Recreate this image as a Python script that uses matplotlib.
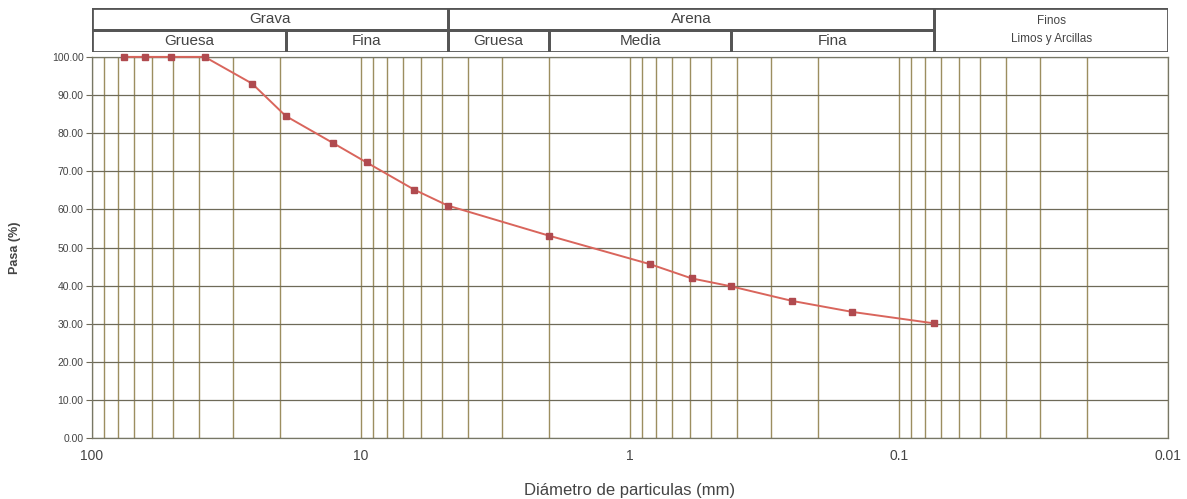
import matplotlib
matplotlib.use("Agg")
import matplotlib.pyplot as plt
from matplotlib.ticker import FixedLocator, LogLocator, NullFormatter

plt.rcParams["font.family"] = ["Liberation Sans", "DejaVu Sans"]

# tamices (mm) y porcentaje que pasa
diametro = [76.2, 63.5, 50.8, 38.1, 25.4, 19.05, 12.7, 9.525, 6.35, 4.76,
            2.0, 0.84, 0.59, 0.42, 0.25, 0.149, 0.074]
pasa = [100.0, 100.0, 100.0, 100.0, 93.0, 84.5, 77.4, 72.3, 65.2, 61.0,
        53.1, 45.6, 41.9, 39.8, 36.0, 33.1, 30.1]

x_ticks = [100, 10, 1, 0.1, 0.01]
x_labels = ["100", "10", "1", "0.1", "0.01"]
y_ticks = list(range(0, 101, 10))

# encabezado de clasificacion
fila1 = [("Grava", 100, 4.76), ("Arena", 4.76, 0.074)]
fila2 = [("Gruesa", 100, 19.05), ("Fina", 19.05, 4.76), ("Gruesa", 4.76, 2.0),
         ("Media", 2.0, 0.42), ("Fina", 0.42, 0.074)]
finos = ("Finos\nLimos y Arcillas", 0.074, 0.01)

fig = plt.figure(figsize=(11.87, 4.99), dpi=100)
ax = fig.add_axes([0.0775, 0.122, 0.9065, 0.764])
hd = fig.add_axes([0.0775, 0.896, 0.9065, 0.088], sharex=ax)

grid_v = "#9c8e60"
grid_h = "#6e6a58"
txt = "#444444"

ax.set_xscale("log")
ax.set_xlim(100, 0.01)
ax.set_ylim(0, 100)
ax.xaxis.set_major_locator(FixedLocator(x_ticks))
ax.set_xticklabels(x_labels)
ax.xaxis.set_minor_locator(LogLocator(base=10, subs=range(2, 10), numticks=20))
ax.xaxis.set_minor_formatter(NullFormatter())
ax.set_yticks(y_ticks)
ax.set_yticklabels([f"{v:.2f}" for v in y_ticks])

ax.grid(True, which="both", axis="x", color=grid_v, lw=1.0)
ax.grid(True, which="major", axis="y", color=grid_h, lw=0.9)
ax.tick_params(axis="x", which="both", length=0, pad=8, labelsize=10, labelcolor=txt)
ax.tick_params(axis="y", length=4, width=0.8, color=grid_h, labelsize=7.5,
               labelcolor=txt, pad=2)
for s in ax.spines.values():
    s.set_color("#777766")
    s.set_linewidth(0.9)

ax.plot(diametro, pasa, color="#d9655c", lw=1.4, marker="s", ms=5,
        mfc="#b04a4f", mec="#b04a4f", zorder=3, clip_on=False)

ax.set_xlabel("Diámetro de particulas (mm)", fontsize=12, color=txt, labelpad=14)
ax.set_ylabel("Pasa (%)", fontsize=9, color=txt, fontweight="bold", labelpad=22)

# tabla de encabezado
hd.set_ylim(0, 2)
hd.axis("off")
lc = "#555555"
for nombre, a, b in fila1:
    hd.plot([a, b, b, a, a], [1, 1, 2, 2, 1], color=lc, lw=2, solid_capstyle="projecting")
    hd.text((a * b) ** 0.5, 1.5, nombre, ha="center", va="center", fontsize=11, color=txt)
for nombre, a, b in fila2:
    hd.plot([a, b, b, a, a], [0, 0, 1, 1, 0], color=lc, lw=2, solid_capstyle="projecting")
    hd.text((a * b) ** 0.5, 0.5, nombre, ha="center", va="center", fontsize=11, color=txt)
nombre, a, b = finos
hd.plot([a, b, b, a, a], [0, 0, 2, 2, 0], color=lc, lw=2, solid_capstyle="projecting")
hd.text((a * b) ** 0.5, 1.0, nombre, ha="center", va="center", fontsize=8.5,
        color=txt, linespacing=1.6)

fig.savefig("out.png", dpi=100)
